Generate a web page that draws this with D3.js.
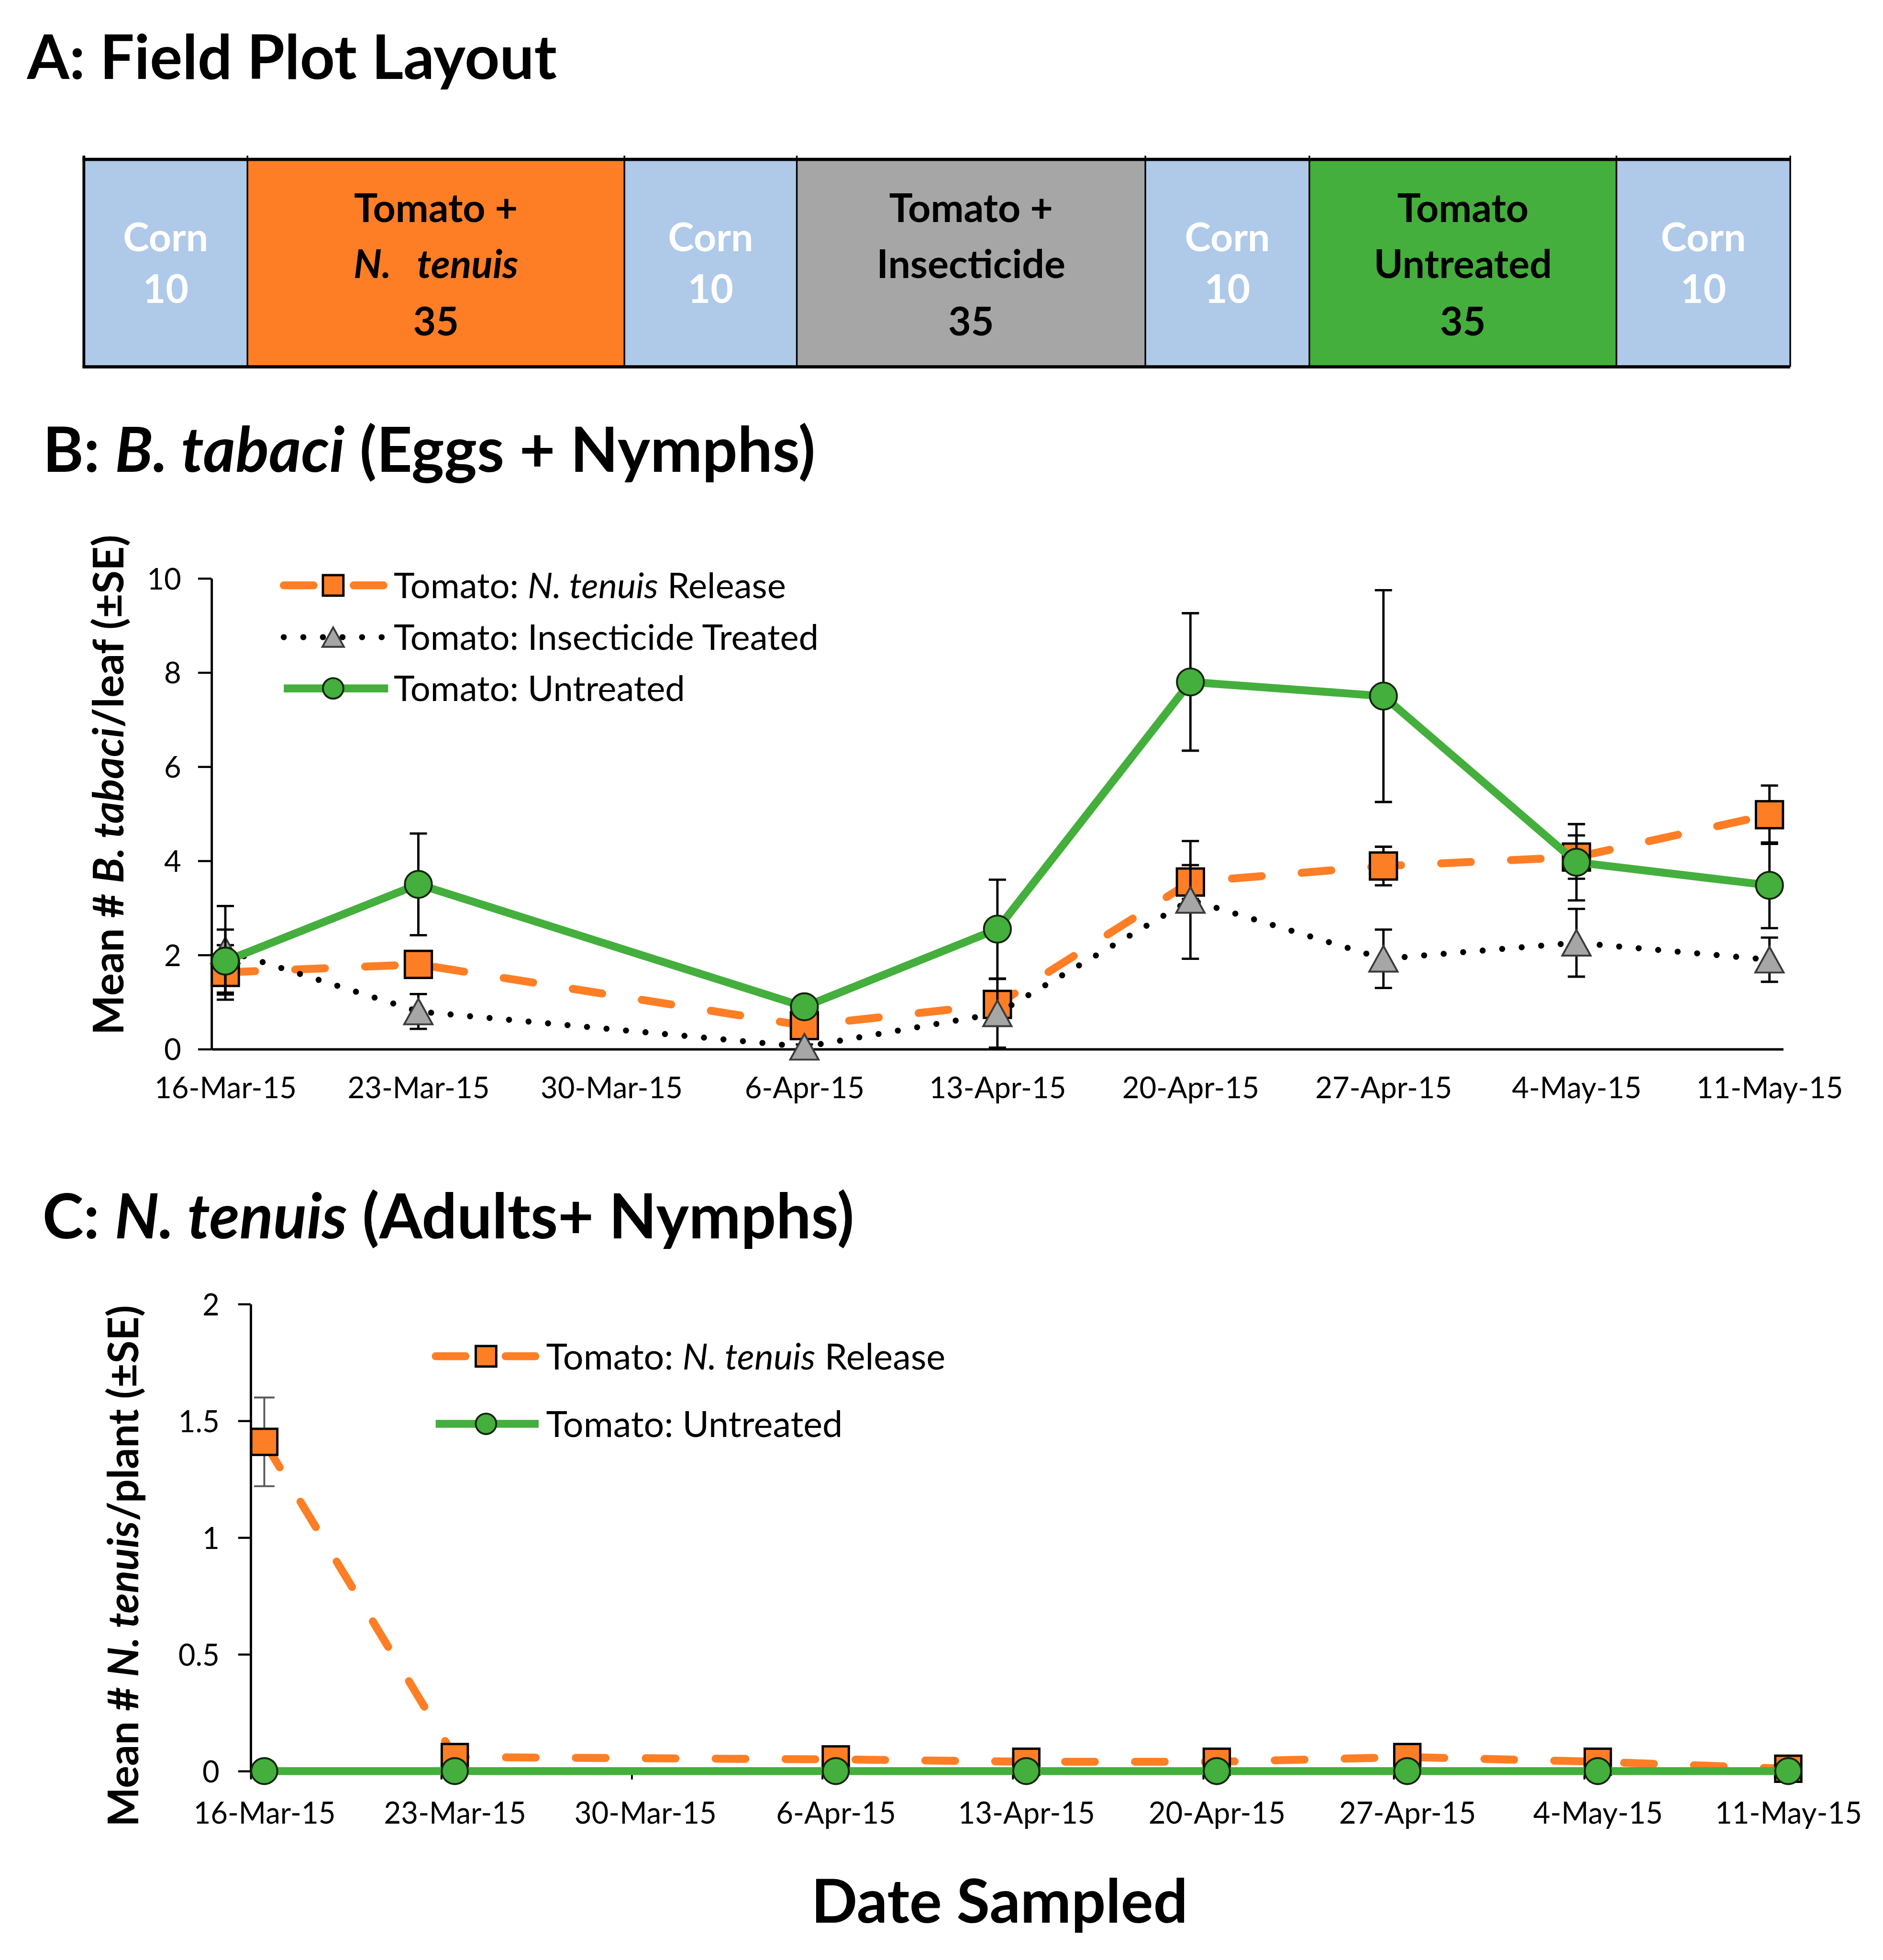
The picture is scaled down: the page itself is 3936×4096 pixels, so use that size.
<!DOCTYPE html>
<html><head><meta charset="utf-8">
<script src="https://cdn.jsdelivr.net/npm/d3@7"></script>
<style>body{margin:0;background:#fff} svg{display:block;background:#fff}</style>
</head><body>
<svg id="chart" width="3936" height="4096"></svg>
<script>
// ---------------- DATA ----------------
// Panel A: field plot strips (relative strip widths)
const plotLabels = [["Corn","10"],["Tomato +","N.\u00a0\u00a0 tenuis","35"],["Corn","10"],["Tomato +","Insecticide","35"],["Corn","10"],["Tomato","Untreated","35"],["Corn","10"]];
const plotValues = [351, 809, 370, 748, 352, 659, 373];
const plotTypes  = ["corn","release","corn","insect","corn","untreated","corn"];

// Axis categories / sample dates
const axisDates   = ["16-Mar-15","23-Mar-15","30-Mar-15","6-Apr-15","13-Apr-15","20-Apr-15","27-Apr-15","4-May-15","11-May-15"];
const sampleDates = ["16-Mar-15","23-Mar-15","6-Apr-15","13-Apr-15","20-Apr-15","27-Apr-15","4-May-15","11-May-15"];

// Panel B: B. tabaci per leaf (mean, SE)
const bReleaseMean   = [1.63, 1.80, 0.50, 0.95, 3.55, 3.89, 4.08, 4.98];
const bReleaseSE     = [0.58, 0.10, 0.10, 0.15, 0.36, 0.41, 0.46, 0.62];
const bInsectMean    = [2.10, 0.80, 0.05, 0.76, 3.17, 1.92, 2.26, 1.90];
const bInsectSE      = [0.94, 0.37, 0.05, 0.73, 1.25, 0.62, 0.72, 0.47];
const bUntreatedMean = [1.87, 3.50, 0.90, 2.55, 7.80, 7.50, 3.97, 3.48];
const bUntreatedSE   = [0.67, 1.08, 0.10, 1.05, 1.46, 2.25, 0.81, 0.91];
const bTicks = [0, 2, 4, 6, 8, 10];

// Panel C: N. tenuis per plant (mean, SE)
const cReleaseMean   = [1.41, 0.06, 0.05, 0.04, 0.04, 0.06, 0.04, 0.01];
const cReleaseSE     = [0.19, 0.01, 0.01, 0.01, 0.01, 0.01, 0.01, 0.01];
const cUntreatedMean = [0, 0, 0, 0, 0, 0, 0, 0];
const cUntreatedSE   = [0, 0, 0, 0, 0, 0, 0, 0];
const cTicks = [0, 0.5, 1, 1.5, 2];

// ---------------- SETUP ----------------
const S = 0.974;
const FONT = "Lato, 'Open Sans', 'DejaVu Sans', sans-serif";
const COL = {release:"#FE7E26", insect:"#A6A6A6", untreated:"#44AF3C", corn:"#AFC9E9"};
const parse = d3.timeParse("%d-%b-%y");
const noon = s => d3.timeHour.offset(parse(s), 12);

const svg = d3.select("#chart");
const root = svg.append("g").attr("transform", `scale(${S})`);

function fitWidth(sel, target){
  const w = sel.node().getBBox().width;
  const fs = +sel.attr("font-size");
  const nf = fs * target / w;
  sel.attr("font-size", nf);
  return nf;
}
// keep font-size, compress glyphs horizontally by factor k
function squeeze(sel, k){
  sel.each(function(){
    const L = this.getComputedTextLength();
    d3.select(this).attr("textLength", L * k).attr("lengthAdjust", "spacingAndGlyphs");
  });
}
function richText(g, parts, attrs){
  const t = g.append("text").attr("font-family", FONT).attr("fill","#000");
  Object.entries(attrs).forEach(([k,v]) => t.attr(k, v));
  parts.forEach(p => {
    const ts = t.append("tspan").text(p.t);
    if (p.i) ts.attr("font-style","italic");
    if (p.b) ts.attr("font-weight","bold");
  });
  return t;
}

// ---------------- TITLES ----------------
fitWidth(richText(root, [{t:"A: Field Plot Layout"}], {x:58, y:169, "font-size":130, "font-weight":"bold"}), 1138);
fitWidth(richText(root, [{t:"B: "},{t:"B. tabaci",i:1},{t:" (Eggs + Nymphs)"}], {x:92, y:1012, "font-size":130, "font-weight":"bold"}), 1658);
fitWidth(richText(root, [{t:"C: "},{t:"N. tenuis",i:1},{t:" (Adults+ Nymphs)"}], {x:91, y:2657, "font-size":130, "font-weight":"bold"}), 1742);
fitWidth(richText(root, [{t:"Date Sampled"}], {x:2145, y:4125, "font-size":130, "font-weight":"bold", "text-anchor":"middle"}), 808);

// ---------------- PANEL A ----------------
(function(){
  const g = root.append("g");
  const px = d3.scaleLinear().domain([0, d3.sum(plotValues)]).range([180, 3842]);
  const starts = [0, ...d3.cumsum(plotValues)];
  const top = 342, bot = 787;
  plotValues.forEach((v,i) => {
    g.append("rect").attr("x", px(starts[i])).attr("y", top)
      .attr("width", px(starts[i+1]) - px(starts[i])).attr("height", bot - top)
      .attr("fill", COL[plotTypes[i]]);
  });
  starts.forEach((s,i) => {
    g.append("line").attr("x1", px(s)).attr("x2", px(s)).attr("y1", top - 8).attr("y2", bot)
      .attr("stroke", "#000").attr("stroke-width", (i===0) ? 6 : 3.5);
  });
  g.append("line").attr("x1", px(0)-3).attr("x2", px(starts[starts.length-1])).attr("y1", top).attr("y2", top).attr("stroke","#000").attr("stroke-width",7);
  g.append("line").attr("x1", px(0)-3).attr("x2", px(starts[starts.length-1])).attr("y1", bot).attr("y2", bot).attr("stroke","#000").attr("stroke-width",7);
  const texts = [];
  plotLabels.forEach((lines,i) => {
    const cx = (px(starts[i]) + px(starts[i+1])) / 2;
    const ys = lines.length === 2 ? [539, 650] : [476, 597, 720];
    lines.forEach((ln,j) => {
      const t = g.append("text").attr("x", cx).attr("y", ys[j]).attr("text-anchor","middle")
        .attr("font-family", FONT).attr("font-weight","bold").attr("font-size", 80)
        .attr("fill", plotTypes[i]==="corn" ? "#fff" : "#000")
        .attr("font-style", ln.startsWith("N.") ? "italic" : null)
        .text(ln);
      texts.push(t);
    });
  });
  const ref = texts.find(t => t.text()==="Insecticide");
  const nf = fitWidth(ref, 405);
  texts.forEach(t => t.attr("font-size", nf));
})();

// ---------------- MARKERS ----------------
function marker(g, type, cx, cy, size){
  if (type === "square"){
    g.append("rect").attr("x", cx-size/2).attr("y", cy-size/2).attr("width", size).attr("height", size)
      .attr("fill", COL.release).attr("stroke","#000").attr("stroke-width", 5);
  } else if (type === "circle"){
    g.append("ellipse").attr("cx", cx).attr("cy", cy).attr("rx", size/2).attr("ry", size/2)
      .attr("fill", COL.untreated).attr("stroke","#12240e").attr("stroke-width", 4);
  } else {
    const w = size*1.05, h = size*0.95;
    g.append("path").attr("d", `M${cx},${cy-h/2}L${cx+w/2},${cy+h/2}L${cx-w/2},${cy+h/2}Z`)
      .attr("fill", COL.insect).attr("stroke","#3a3a3a").attr("stroke-width", 4).attr("stroke-linejoin","miter");
  }
}
const STY = {
  release:   {stroke: COL.release, width:17, dash:"64 86", cap:"round", marker:"square"},
  insect:    {stroke: "#000", width:13, dash:"0 42", cap:"round", marker:"triangle"},
  untreated: {stroke: COL.untreated, width:17, dash:null, cap:"butt", marker:"circle"}
};
function styleLine(sel, s){
  sel.attr("fill","none").attr("stroke", s.stroke).attr("stroke-width", s.width)
    .attr("stroke-dasharray", s.dash).attr("stroke-linecap", s.cap).attr("stroke-linejoin","round");
}

// ---------------- LINE CHART ----------------
function drawChart(cfg){
  const g = root.append("g");
  const x = d3.scaleTime()
    .domain([parse(axisDates[0]), d3.timeDay.offset(parse(axisDates[axisDates.length-1]), 1)])
    .range(cfg.xRange);
  const y = d3.scaleLinear().domain(cfg.yDomain).range(cfg.yRange);

  const ya = g.append("g").attr("transform", `translate(${cfg.xRange[0]},0)`)
    .call(d3.axisLeft(y).tickValues(cfg.yTicks).tickSize(cfg.yTickLen).tickPadding(cfg.yTickPad)
      .tickSizeOuter(0).tickFormat(d3.format("")));
  const xa = g.append("g").attr("transform", `translate(0,${cfg.yRange[0]})`)
    .call(d3.axisBottom(x).tickValues(axisDates.map(noon)).tickSize(0).tickSizeOuter(0)
      .tickFormat((d,i) => axisDates[i]));
  xa.selectAll("text").attr("y", cfg.xLabelOffset).attr("dy", 0);
  if (cfg.xTickLen){
    const xt = g.append("g").attr("transform", `translate(0,${cfg.yRange[0]})`)
      .call(d3.axisBottom(x).tickValues(axisDates.map(parse)).tickSize(cfg.xTickLen).tickFormat(""));
    xt.select(".domain").remove();
    xt.selectAll("line").attr("stroke","#000").attr("stroke-width",4);
  }
  [ya, xa].forEach(a => {
    a.attr("font-family", null).attr("font-size", null);
    a.selectAll(".domain").attr("stroke","#000").attr("stroke-width",5);
    a.selectAll(".tick line").attr("stroke","#000").attr("stroke-width",4.5);
    a.selectAll("text").attr("font-family", FONT).attr("fill","#000").attr("font-size", cfg.tickFont);
  });
  // compress tick labels so "16-Mar-15" spans the measured width while keeping glyph height
  const firstLen = xa.select(".tick text").node().getComputedTextLength();
  const k = cfg.xLabelWidth / firstLen;
  squeeze(xa.selectAll("text"), k);
  squeeze(ya.selectAll("text"), k);
  ya.selectAll("text").attr("dy","0.36em");

  cfg.series.forEach(s => {
    const st = STY[s.key];
    const pts = sampleDates.map((d,i) => ({x: x(noon(d)), m: s.mean[i], se: s.se[i]}));
    const sg = g.append("g");
    styleLine(sg.append("path").attr("d", d3.line().x(p => p.x).y(p => y(p.m))(pts)), st);
    pts.forEach(p => {
      if (p.se <= 0) return;
      const y0 = y(p.m - p.se), y1 = y(p.m + p.se), cw = cfg.capW/2;
      sg.append("path").attr("d", `M${p.x},${y0}V${y1}M${p.x-cw},${y0}H${p.x+cw}M${p.x-cw},${y1}H${p.x+cw}`)
        .attr("fill","none").attr("stroke", cfg.errColor).attr("stroke-width", cfg.errW);
    });
    pts.forEach(p => marker(sg, st.marker, p.x, y(p.m), cfg.msize));
  });

  const lg = g.append("g");
  const ltexts = [];
  cfg.series.forEach((s,i) => {
    const st = STY[s.key];
    const yy = cfg.legend.rows[i];
    styleLine(lg.append("line").attr("x1", cfg.legend.x0).attr("x2", cfg.legend.x1).attr("y1", yy).attr("y2", yy), st);
    marker(lg, st.marker, cfg.legend.xm, yy, cfg.legend.msize);
    ltexts.push(richText(lg, s.label, {x: cfg.legend.xt, y: yy, dy:"0.36em", "font-size":60}));
  });
  const lf = fitWidth(ltexts[cfg.legend.fitIdx], cfg.legend.fitW);
  ltexts.forEach(t => t.attr("font-size", lf));

  const yl = richText(g, cfg.yLabel, {transform:`translate(${cfg.yLabelPos[0]},${cfg.yLabelPos[1]}) rotate(-90)`,
    "text-anchor":"middle", "font-size":cfg.yLabelFont, "font-weight":"bold"});
  const yln = yl.node().getComputedTextLength();
  if (yln > cfg.yLabelLen) yl.attr("textLength", cfg.yLabelLen).attr("lengthAdjust","spacingAndGlyphs");
  else fitWidth(yl, cfg.yLabelLen);
}

drawChart({
  xRange:[454, 3827], yDomain:[0,10], yRange:[2251, 1241], yTicks:bTicks,
  yTickLen:29, yTickPad:36, xLabelOffset:105, xLabelWidth:305, xTickLen:0, tickFont:64,
  capW:37, errW:5, errColor:"#000", msize:58,
  series:[
    {key:"release", mean:bReleaseMean, se:bReleaseSE, label:[{t:"Tomato: "},{t:"N. tenuis",i:1},{t:" Release"}]},
    {key:"insect", mean:bInsectMean, se:bInsectSE, label:[{t:"Tomato: Insecticide Treated"}]},
    {key:"untreated", mean:bUntreatedMean, se:bUntreatedSE, label:[{t:"Tomato: Untreated"}]}
  ],
  legend:{rows:[1256, 1367, 1477], x0:609, x1:833, xm:715, xt:845, msize:44, fitIdx:1, fitW:912},
  yLabel:[{t:"Mean # "},{t:"B. tabaci",i:1},{t:"/leaf (±SE)"}], yLabelPos:[265, 1684], yLabelLen:1073, yLabelFont:88
});

drawChart({
  xRange:[538, 3867], yDomain:[0,2], yRange:[3800, 2798], yTicks:cTicks,
  yTickLen:27, yTickPad:40, xLabelOffset:113, xLabelWidth:305, xTickLen:18, tickFont:66,
  capW:44, errW:4, errColor:"#595959", msize:56,
  series:[
    {key:"release", mean:cReleaseMean, se:cReleaseSE, label:[{t:"Tomato: "},{t:"N. tenuis",i:1},{t:" Release"}]},
    {key:"untreated", mean:cUntreatedMean, se:cUntreatedSE, label:[{t:"Tomato: Untreated"}]}
  ],
  legend:{rows:[2910, 3055], x0:935, x1:1156, xm:1043, xt:1172, msize:44, fitIdx:0, fitW:857},
  yLabel:[{t:"Mean # "},{t:"N. tenuis",i:1},{t:"/plant (±SE)"}], yLabelPos:[297, 3360], yLabelLen:1119, yLabelFont:90
});
</script>
</body></html>
